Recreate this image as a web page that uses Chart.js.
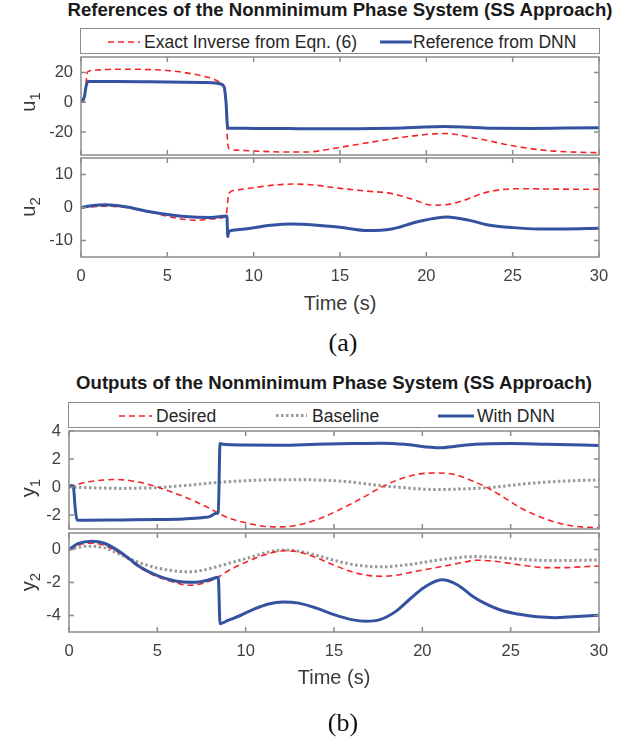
<!DOCTYPE html>
<html lang="en">
<head>
<meta charset="UTF-8">
<title>Nonminimum Phase System (SS Approach)</title>
<script src="https://cdn.jsdelivr.net/npm/chart.js@4"></script>
<style>
  body { margin:0; width:627px; height:739px; background:#fff; position:relative; overflow:hidden;
         font-family:"Liberation Sans", Arial, sans-serif; color:#262626; }
  .plot { position:absolute; left:0; }
  .title { position:absolute; font-weight:bold; font-size:18.6px; white-space:nowrap;
           transform:translate(-50%,-50%); color:#1a1a1a; }
  .xlabel { position:absolute; font-size:20px; white-space:nowrap; transform:translate(-50%,-50%); color:#3a3a3a; }
  .ylabel { position:absolute; font-size:20px; white-space:nowrap; color:#3a3a3a;
            transform:translate(-50%,-50%) rotate(-90deg); }
  .ylabel sub { font-size:15px; vertical-align:-0.3em; }
  .cap { position:absolute; font-family:"Liberation Serif","Times New Roman",serif; font-size:26px;
         transform:translate(-50%,-50%); color:#111; }
  .legend { position:absolute; border:1.5px solid #8c8c8c; background:#fff; box-sizing:border-box; }
  .lg-text { position:absolute; font-size:17.5px; white-space:nowrap; transform:translateY(-50%); color:#262626; }
  .lg-line { position:absolute; overflow:visible; }
</style>
</head>
<body>

<div class="title" style="left:340px; top:10px;">References of the Nonminimum Phase System (SS Approach)</div>
<div class="legend" style="left:80px; top:28px; width:520px; height:26px;"></div>
<svg class="lg-line" style="left:108px; top:41px;" width="32" height="2"><line x1="0" y1="1" x2="32" y2="1" stroke="rgb(245,35,40)" stroke-width="1.6" stroke-dasharray="6 4"/></svg>
<div class="lg-text" style="left:144px; top:42px;">Exact Inverse from Eqn. (6)</div>
<svg class="lg-line" style="left:380px; top:41px;" width="32" height="2"><line x1="0" y1="1" x2="32" y2="1" stroke="#3352a0" stroke-width="3"/></svg>
<div class="lg-text" style="left:413px; top:42px;">Reference from DNN</div>

<div class="plot" style="top:47px;"><canvas id="u1Chart" width="627" height="114"></canvas></div>
<div class="plot" style="top:148px;"><canvas id="u2Chart" width="627" height="143"></canvas></div>
<div class="ylabel" style="left:30px; top:102px;">u<sub>1</sub></div>
<div class="ylabel" style="left:30px; top:207px;">u<sub>2</sub></div>
<div class="xlabel" style="left:340px; top:303px;">Time (s)</div>
<div class="cap" style="left:343px; top:343px;">(a)</div>

<div class="title" style="left:334px; top:383px;">Outputs of the Nonminimum Phase System (SS Approach)</div>
<div class="legend" style="left:68px; top:402px; width:532px; height:26px;"></div>
<svg class="lg-line" style="left:119px; top:415px;" width="33" height="2"><line x1="0" y1="1" x2="33" y2="1" stroke="rgb(245,35,40)" stroke-width="1.6" stroke-dasharray="6 4"/></svg>
<div class="lg-text" style="left:156px; top:416px;">Desired</div>
<svg class="lg-line" style="left:276px; top:414px;" width="31" height="3"><line x1="0" y1="1.5" x2="31" y2="1.5" stroke="#9a9a9a" stroke-width="3" stroke-dasharray="2.5 2.5"/></svg>
<div class="lg-text" style="left:312px; top:416px;">Baseline</div>
<svg class="lg-line" style="left:438px; top:415px;" width="36" height="2"><line x1="0" y1="1" x2="36" y2="1" stroke="#3352a0" stroke-width="3"/></svg>
<div class="lg-text" style="left:477px; top:416px;">With DNN</div>

<div class="plot" style="top:421px;"><canvas id="y1Chart" width="627" height="114"></canvas></div>
<div class="plot" style="top:523px;"><canvas id="y2Chart" width="627" height="143"></canvas></div>
<div class="ylabel" style="left:30px; top:488px;">y<sub>1</sub></div>
<div class="ylabel" style="left:30px; top:582px;">y<sub>2</sub></div>
<div class="xlabel" style="left:334px; top:677px;">Time (s)</div>
<div class="cap" style="left:343px; top:723px;">(b)</div>

<script>
// ticks
const xTicks = [0, 5, 10, 15, 20, 25, 30];
const u1Ticks = [-20, 0, 20];
const u2Ticks = [-10, 0, 10];
const y1Ticks = [-2, 0, 2, 4];
const y2Ticks = [-4, -2, 0];

// (a) u1
const u1ExactT = [0, 0.15, 0.28, 0.38, 1, 2, 3, 4, 5, 6, 7, 7.7, 8.1, 8.3, 8.4, 8.5, 8.6, 9, 10, 12, 13, 15, 17, 19, 21, 23, 25, 27, 29, 30];
const u1ExactV = [0, 1, 12, 20.5, 21.8, 22.3, 22.3, 22, 21.4, 20, 17.8, 15.6, 13, 10, -5, -28, -31.5, -32.2, -32.8, -33.5, -33.5, -30.3, -26.5, -23, -21, -24.5, -29.3, -32.5, -33.7, -33.9];
const u1RefT = [0, 0.1, 0.2, 0.3, 0.42, 1, 2, 4, 6, 7, 7.8, 8.1, 8.3, 8.4, 8.5, 8.7, 10, 12, 14, 16, 18, 19.5, 21, 22.5, 24, 26, 28, 30];
const u1RefV = [0, 1.5, 4, 11, 14, 14, 14, 13.8, 13.5, 13.3, 13, 12.3, 10, 0, -17.5, -17.5, -17.6, -17.7, -17.8, -17.8, -17.5, -16.8, -16.3, -16.8, -17.5, -17.6, -17.4, -17.2];

// (a) u2
const u2ExactT = [0, 1.5, 3, 4.5, 5.5, 6.7, 7.5, 8.4, 8.5, 8.6, 9, 10, 11, 12.3, 13.5, 15, 16.5, 18, 19.3, 20.3, 21.2, 22.2, 23.2, 24.3, 25.5, 27, 30];
const u2ExactV = [0, 0.4, -0.3, -2, -3.2, -3.9, -3.5, -2.7, 2, 4.5, 5.3, 6.0, 6.7, 7.1, 6.8, 5.8, 5, 4.2, 2.3, 0.7, 0.9, 2.2, 4.2, 5.4, 5.7, 5.6, 5.5];
const u2RefT = [0, 0.7, 1.4, 2.5, 4, 5, 6.5, 7.5, 8.45, 8.5, 8.55, 8.7, 9.5, 11, 12.2, 13.5, 15, 16.6, 18, 19.5, 21.2, 22.5, 23.5, 25, 26.5, 28, 30];
const u2RefV = [0, 0.6, 0.8, 0.3, -1.3, -2.1, -2.9, -3, -2.6, -8.8, -7.4, -7.0, -6.5, -5.4, -5.0, -5.3, -6.0, -7.0, -6.5, -4.3, -2.85, -3.9, -5.2, -6.1, -6.5, -6.5, -6.3];

// (b) y1
const y1DesT = [0, 1, 2, 2.7, 3.5, 4.3, 5, 6, 7, 8, 8.5, 9, 10, 11, 11.8, 12.6, 13.5, 14.5, 15.5, 16.5, 17.7, 18.7, 19.7, 20.8, 21.8, 22.8, 23.6, 24.5, 25.5, 26.5, 27.5, 28.5, 29.3, 30];
const y1DesV = [0, 0.35, 0.5, 0.54, 0.45, 0.25, 0, -0.45, -0.95, -1.55, -1.9, -2.2, -2.55, -2.8, -2.85, -2.8, -2.55, -2.1, -1.5, -0.85, 0, 0.55, 0.9, 1.0, 0.9, 0.45, 0, -0.65, -1.45, -2.05, -2.5, -2.78, -2.88, -2.9];
const y1BaseT = [0, 1, 2, 3, 4, 5, 6, 7, 8, 9, 10, 11, 12, 13, 14, 15, 16, 17, 18, 19, 20, 21, 22, 23, 24, 25, 26, 27, 28, 29, 30];
const y1BaseV = [0, -0.05, -0.08, -0.1, -0.08, -0.05, 0.05, 0.15, 0.28, 0.38, 0.45, 0.5, 0.52, 0.52, 0.5, 0.45, 0.35, 0.2, 0.05, -0.05, -0.15, -0.18, -0.15, -0.1, -0.02, 0.12, 0.25, 0.35, 0.42, 0.47, 0.5];
const y1DnnT = [0, 0.15, 0.25, 0.35, 0.45, 1, 3, 5, 6.5, 7.5, 8, 8.3, 8.45, 8.55, 8.7, 10, 12, 14, 16, 17.7, 19, 20.1, 20.9, 21.8, 23, 25, 27, 30];
const y1DnnV = [0, 0.1, 0, -1.5, -2.35, -2.37, -2.35, -2.33, -2.28, -2.2, -2.1, -1.9, -1.85, 3.1, 3.05, 3.0, 2.98, 3.05, 3.1, 3.13, 3.05, 2.88, 2.8, 2.9, 3.05, 3.1, 3.05, 2.97];

// (b) y2
const y2DesT = [0, 0.6, 1.3, 2, 3, 4, 5, 6, 6.8, 7.6, 8.4, 9, 9.7, 10.5, 11.3, 12.2, 13, 14, 15, 16, 16.8, 17.7, 18.6, 19.5, 20.5, 21.5, 22.3, 23.1, 24, 25, 26, 27, 28, 29, 30];
const y2DesV = [0, 0.3, 0.38, 0.25, -0.3, -1.1, -1.65, -2.0, -2.17, -2.05, -1.7, -1.3, -0.92, -0.55, -0.25, -0.07, -0.15, -0.5, -0.95, -1.35, -1.55, -1.62, -1.55, -1.35, -1.15, -0.95, -0.78, -0.65, -0.7, -0.85, -1.0, -1.1, -1.1, -1.05, -1.0];
const y2BaseT = [0, 1, 2, 3, 4, 5, 6, 6.8, 7.6, 8.5, 9.5, 10.5, 11.3, 12.1, 13, 14, 15, 16, 17, 17.7, 18.5, 19.5, 20.5, 21.5, 22.3, 23, 24, 25, 26, 27, 28, 29, 30];
const y2BaseV = [0, 0.2, 0.1, -0.35, -0.8, -1.12, -1.3, -1.35, -1.25, -1.0, -0.7, -0.4, -0.15, -0.03, -0.1, -0.35, -0.65, -0.9, -1.03, -1.05, -1.0, -0.88, -0.7, -0.55, -0.46, -0.43, -0.47, -0.55, -0.62, -0.67, -0.67, -0.65, -0.63];
const y2DnnT = [0, 0.5, 1.3, 2, 3, 4, 5, 6.3, 7.2, 8, 8.45, 8.55, 9, 9.7, 10.5, 11.3, 12.1, 13, 14, 15, 16, 16.8, 17.6, 18.5, 19.3, 20.1, 21.1, 22, 22.8, 23.6, 24.5, 25.5, 26.5, 27.5, 28.5, 30];
const y2DnnV = [0, 0.35, 0.5, 0.38, -0.22, -1.05, -1.58, -1.95, -1.98, -1.82, -1.68, -4.5, -4.3, -4.0, -3.6, -3.3, -3.18, -3.25, -3.55, -3.95, -4.25, -4.35, -4.25, -3.75, -3.0, -2.3, -1.84, -2.15, -2.8, -3.3, -3.7, -3.93, -4.08, -4.13, -4.08, -3.98];

const RED = 'rgb(245,35,40)';
const BLUE = '#3352a0';
const GRAY = '#9a9a9a';
const FRAME = '#8c8c8c';

function pts(t, v) {
  return t.map((x, i) => ({ x: x, y: v[i] }));
}

const redLine = (t, v) => ({ data: pts(t, v), borderColor: RED, borderWidth: 1.6, borderDash: [6, 4], order: 1 });
const blueLine = (t, v) => ({ data: pts(t, v), borderColor: BLUE, borderWidth: 3, order: 0 });
const grayLine = (t, v) => ({ data: pts(t, v), borderColor: GRAY, borderWidth: 3, borderDash: [2.5, 2.5], order: 2 });

// box with inward ticks like matlab
const frame = {
  id: 'frame',
  afterDraw(chart) {
    const { ctx, chartArea: a } = chart;
    const xs = chart.scales.x, ys = chart.scales.y;
    ctx.save();
    ctx.strokeStyle = FRAME;
    ctx.lineWidth = 1.5;
    ctx.strokeRect(a.left, a.top, a.right - a.left, a.bottom - a.top);
    ctx.beginPath();
    xs.ticks.forEach(tk => {
      const px = xs.getPixelForValue(tk.value);
      ctx.moveTo(px, a.bottom); ctx.lineTo(px, a.bottom - 5);
      ctx.moveTo(px, a.top); ctx.lineTo(px, a.top + 5);
    });
    ys.ticks.forEach(tk => {
      const py = ys.getPixelForValue(tk.value);
      ctx.moveTo(a.left, py); ctx.lineTo(a.left + 5, py);
      ctx.moveTo(a.right, py); ctx.lineTo(a.right - 5, py);
    });
    ctx.stroke();
    ctx.restore();
  }
};

function makeAxes(id, left, boxH, yMin, yMax, yTicks, showX, datasets) {
  const cv = document.getElementById(id);
  const xH = cv.height - 10 - boxH;
  return new Chart(cv, {
    type: 'line',
    data: { datasets: datasets },
    options: {
      responsive: false,
      animation: false,
      events: [],
      layout: { padding: { top: 10, right: 28, left: 0, bottom: 0 } },
      elements: {
        point: { radius: 0 },
        line: { cubicInterpolationMode: 'monotone', fill: false }
      },
      plugins: { legend: { display: false }, tooltip: { enabled: false } },
      scales: {
        x: {
          type: 'linear', min: 0, max: 30,
          grid: { display: false, drawTicks: false },
          border: { display: false },
          afterBuildTicks: s => { s.ticks = xTicks.map(v => ({ value: v })); },
          afterFit: s => { s.height = xH; s.paddingLeft = 0; s.paddingRight = 0; },
          ticks: {
            display: showX, padding: 10, color: '#404040',
            font: { family: 'Liberation Sans', size: 16.5 }
          }
        },
        y: {
          min: yMin, max: yMax,
          grid: { display: false, drawTicks: false },
          border: { display: false },
          afterBuildTicks: s => { s.ticks = yTicks.map(v => ({ value: v })); },
          afterFit: s => { s.width = left; s.paddingTop = 0; s.paddingBottom = 0; },
          ticks: {
            padding: 8, color: '#404040',
            font: { family: 'Liberation Sans', size: 16.5 }
          }
        }
      }
    },
    plugins: [frame]
  });
}

makeAxes('u1Chart', 81, 98, -35.5, 30.5, u1Ticks, false,
  [redLine(u1ExactT, u1ExactV), blueLine(u1RefT, u1RefV)]);
makeAxes('u2Chart', 81, 99, -15, 15, u2Ticks, true,
  [redLine(u2ExactT, u2ExactV), blueLine(u2RefT, u2RefV)]);
makeAxes('y1Chart', 69, 98, -3, 4, y1Ticks, false,
  [redLine(y1DesT, y1DesV), grayLine(y1BaseT, y1BaseV), blueLine(y1DnnT, y1DnnV)]);
makeAxes('y2Chart', 69, 99, -5, 1, y2Ticks, true,
  [redLine(y2DesT, y2DesV), grayLine(y2BaseT, y2BaseV), blueLine(y2DnnT, y2DnnV)]);
</script>
</body>
</html>
